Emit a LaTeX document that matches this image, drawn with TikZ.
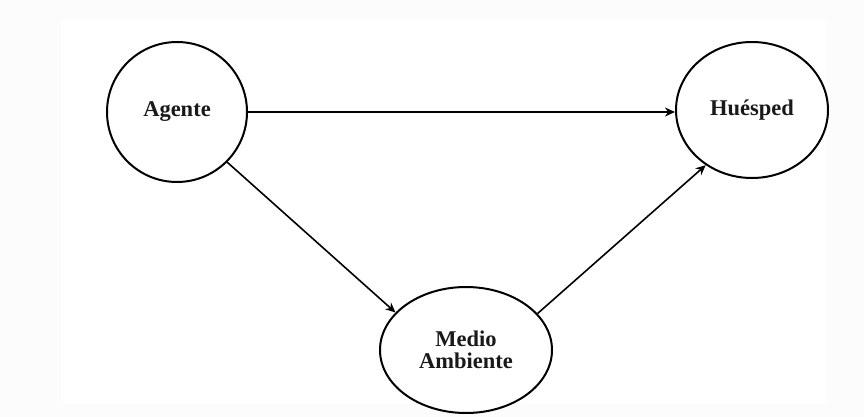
\documentclass[tikz,border=0pt]{standalone}
\usepackage{fontspec}
\setmainfont{Liberation Serif}
\usetikzlibrary{shapes.geometric,arrows.meta}
\begin{document}
\begin{tikzpicture}[x=1pt,y=-1pt,
  blob/.style={draw=black,line width=2pt,ellipse,inner sep=0pt,fill=white,
    font=\fontsize{22.5}{25}\selectfont\bfseries,align=center,text=black!90},
  link/.style={draw=black,line width=1.6pt,-{Stealth[length=10pt,width=9pt]}}]
\fill[black!1] (0,0) rectangle (864,417);
\fill[white] (61,20) rectangle (826,403);
\useasboundingbox (0,0) rectangle (864,417);
\node[blob,minimum width=140,minimum height=140] (ag) at (177,112) {Agente};
\node[blob,minimum width=152,minimum height=136] (hu) at (752,110) {Huésped};
\node[blob,minimum width=172,minimum height=126] (ma) at (466,350) {Medio\\[-3pt]Ambiente};
\draw[link] (ag.east) -- (ag.east -| hu.west);
\draw[link] (ag.-45) -- (ma.152);
\draw[link] (ma.27) -- (hu.230);
\end{tikzpicture}
\end{document}
